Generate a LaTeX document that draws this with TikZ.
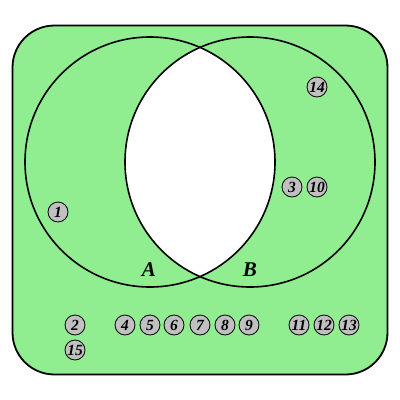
\documentclass[tikz,border=0pt]{standalone}
\usepackage{fontspec}
\setmainfont{Liberation Serif}
\definecolor{lgreen}{HTML}{90EE90}
\definecolor{lgray}{HTML}{C0C0C0}
\begin{document}
\begin{tikzpicture}[x=1pt,y=-1pt,
  elem/.style={circle,draw=black,line width=0.8pt,fill=lgray,minimum size=20pt,inner sep=0pt,font=\bfseries\itshape\fontsize{15.5}{15.5}\selectfont},
  setlbl/.style={font=\bfseries\itshape\fontsize{21}{21}\selectfont}]
\useasboundingbox (0,0) rectangle (400,400);
\node[draw=black,line width=1.8pt,fill=lgreen,rounded corners=42pt,minimum width=375pt,minimum height=349pt,inner sep=0pt] (U) at (200,200) {};
\begin{scope}
  \clip (150,162) circle (125);
  \fill[white] (250,162) circle (125);
\end{scope}
\node[draw=black,line width=1.6pt,circle,minimum size=250pt,inner sep=0pt] (A) at (150,162) {};
\node[draw=black,line width=1.6pt,circle,minimum size=250pt,inner sep=0pt] (B) at (250,162) {};
\node[setlbl] (la) at (149,270) {A};
\node[setlbl] (lb) at (250,270) {B};
\node[elem] (e1) at (58,212) {1};
\node[elem] (e14) at (317,87) {14};
\node[elem] (e3) at (292,187) {3};
\node[elem] (e10) at (317,187) {10};
\node[elem] (e2) at (75,325) {2};
\node[elem] (e15) at (75,350) {15};
\node[elem] (e4) at (125,325) {4};
\node[elem] (e5) at (150,325) {5};
\node[elem] (e6) at (174,325) {6};
\node[elem] (e7) at (200,325) {7};
\node[elem] (e8) at (225,325) {8};
\node[elem] (e9) at (249,325) {9};
\node[elem] (e11) at (299,325) {11};
\node[elem] (e12) at (324,325) {12};
\node[elem] (e13) at (349,325) {13};
\end{tikzpicture}
\end{document}
